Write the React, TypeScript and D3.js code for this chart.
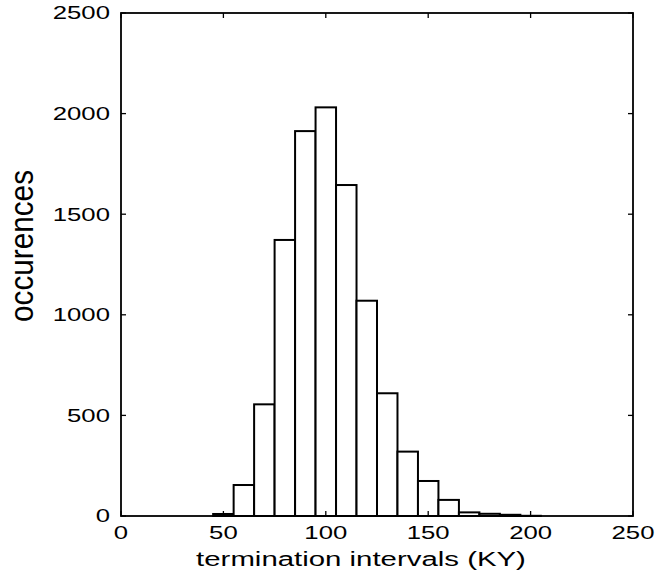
import React from "react";
import * as d3 from "d3";

const binCenters = [50, 60, 70, 80, 90, 100, 110, 120, 130, 140, 150, 160, 170, 180, 190, 200];
const counts = [10, 154, 555, 1372, 1913, 2031, 1645, 1070, 610, 320, 174, 80, 18, 11, 6, 1];
const binWidth = 10;
const xTicks = [0, 50, 100, 150, 200, 250];
const yTicks = [0, 500, 1000, 1500, 2000, 2500];
const xLabel = "termination intervals (KY)";
const yLabel = "occurences";

const W = 657;
const H = 571;
const left = 121;
const right = 633;
const top = 13;
const bottom = 516;
const SX = 1.47;
const FONT = "'Liberation Sans', Arial, Helvetica, sans-serif";

export default function App() {
  const x = d3.scaleLinear().domain([0, 250]).range([left, right]);
  const y = d3.scaleLinear().domain([0, 2500]).range([bottom, top]);
  const tickLen = 5;

  return (
    <svg
      width={W}
      height={H}
      style={{ position: "absolute", left: 0, top: 0, background: "#fff" }}
      fontFamily={FONT}
    >
      <rect x={0} y={0} width={W} height={H} fill="#fff" />
      {binCenters.map((c, i) => (
        <rect
          key={c}
          x={x(c - binWidth / 2)}
          y={y(counts[i])}
          width={x(c + binWidth / 2) - x(c - binWidth / 2)}
          height={y(0) - y(counts[i])}
          fill="#fff"
          stroke="#000"
          strokeWidth={2}
        />
      ))}
      {xTicks.map((t) => (
        <g key={"xt" + t}>
          <line x1={x(t)} x2={x(t)} y1={bottom} y2={bottom - tickLen} stroke="#000" strokeWidth={1.3} />
          <line x1={x(t)} x2={x(t)} y1={top} y2={top + tickLen} stroke="#000" strokeWidth={1.3} />
        </g>
      ))}
      {yTicks.map((t) => (
        <g key={"yt" + t}>
          <line x1={left} x2={left + tickLen} y1={y(t)} y2={y(t)} stroke="#000" strokeWidth={1.3} />
          <line x1={right} x2={right - tickLen} y1={y(t)} y2={y(t)} stroke="#000" strokeWidth={1.3} />
        </g>
      ))}
      <rect x={left} y={top} width={right - left} height={bottom - top} fill="none" stroke="#000" strokeWidth={1.8} />
      {xTicks.map((t) => (
        <g key={"xl" + t} transform={`translate(${x(t)},${539}) scale(${SX},1)`}>
          <text x={0} y={0} textAnchor="middle" fontSize={17.5} fill="#000">
            {t}
          </text>
        </g>
      ))}
      {yTicks.map((t) => (
        <g key={"yl" + t} transform={`translate(${110},${y(t)}) scale(${SX},1)`}>
          <text x={0} y={0} dy="0.36em" textAnchor="end" fontSize={17.5} fill="#000">
            {t}
          </text>
        </g>
      ))}
      <g transform={`translate(361,566) scale(${SX},1)`}>
        <text x={0} y={0} textAnchor="middle" fontSize={20} fill="#000">
          {xLabel}
        </text>
      </g>
      <g transform={`translate(33,246) scale(${SX},1) rotate(-90)`}>
        <text x={0} y={0} textAnchor="middle" fontSize={22} fill="#000" textLength={152} lengthAdjust="spacingAndGlyphs">
          {yLabel}
        </text>
      </g>
    </svg>
  );
}
